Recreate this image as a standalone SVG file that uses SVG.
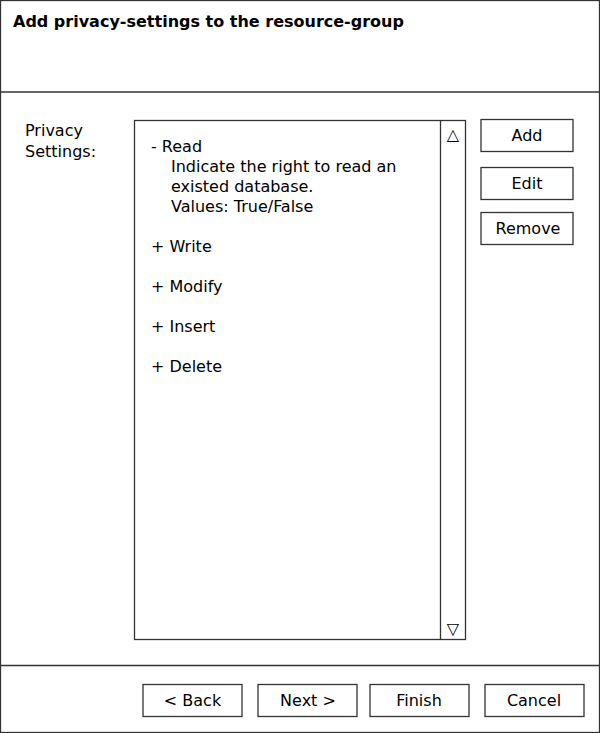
<svg xmlns="http://www.w3.org/2000/svg" width="600" height="733" viewBox="0 0 600 733">
<style>
.b{fill:#fff;stroke:#333;stroke-width:1.3}
.l{stroke:#333;stroke-width:1.3;fill:none}
text{font-family:"DejaVu Sans",sans-serif;font-size:16px;fill:#000}
.c{text-anchor:middle}
.t{font-weight:bold}
</style>
<rect class="b" x="0.5" y="0.5" width="599" height="732"/>
<g id="title"><text class="t" x="13" y="27">Add privacy-settings to the resource-group</text></g>
<line class="l" x1="0" y1="92" x2="600" y2="92"/>
<line class="l" x1="0" y1="665.5" x2="600" y2="665.5"/>
<g id="label"><text x="25" y="136">Privacy</text><text x="25" y="157">Settings:</text></g>
<g id="list">
<rect class="b" x="134.5" y="120.5" width="331" height="519"/>
<line class="l" x1="440.5" y1="120" x2="440.5" y2="640"/>
<text class="c" x="453" y="140">△</text>
<text class="c" x="453" y="634">▽</text>
<text x="151" y="152">- Read</text>
<text x="171" y="172">Indicate the right to read an</text>
<text x="171" y="192">existed database.</text>
<text x="171" y="212">Values: True/False</text>
<text x="151" y="252">+ Write</text>
<text x="151" y="292">+ Modify</text>
<text x="151" y="332">+ Insert</text>
<text x="151" y="372">+ Delete</text>
</g>
<g id="add"><rect class="b" x="481" y="119.5" width="92" height="32"/><text class="c" x="527" y="141">Add</text></g>
<g id="edit"><rect class="b" x="481" y="167.5" width="92" height="32"/><text class="c" x="527" y="189">Edit</text></g>
<g id="remove"><rect class="b" x="481" y="212.5" width="92" height="32"/><text class="c" x="528" y="234">Remove</text></g>
<g id="back"><rect class="b" x="143" y="684.5" width="99" height="32"/><text class="c" x="192.5" y="706">&lt; Back</text></g>
<g id="next"><rect class="b" x="258" y="684.5" width="99" height="32"/><text class="c" x="308" y="706">Next &gt;</text></g>
<g id="finish"><rect class="b" x="370" y="684.5" width="99" height="32"/><text class="c" x="419" y="706">Finish</text></g>
<g id="cancel"><rect class="b" x="485" y="684.5" width="99" height="32"/><text class="c" x="534" y="706">Cancel</text></g>
<g id="connectors"/>
</svg>
